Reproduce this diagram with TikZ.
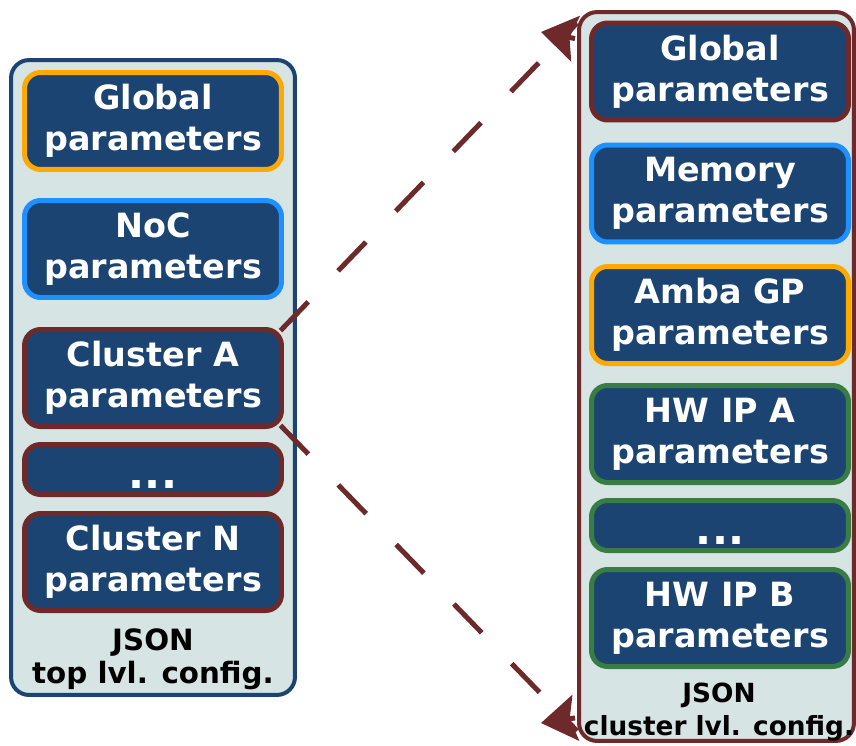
\documentclass[tikz,border=0pt]{standalone}
\usepackage{fontspec}
\setmainfont{DejaVu Sans}
\usetikzlibrary{arrows.meta,calc}
\definecolor{navy}{HTML}{1B4472}
\definecolor{panel}{HTML}{D6E4E4}
\definecolor{amber}{HTML}{FFA800}
\definecolor{sky}{HTML}{1E90FF}
\definecolor{wine}{HTML}{6E2A2A}
\definecolor{leaf}{HTML}{3A7D44}
\tikzset{
  cfgpanel/.style={draw, line width=0.08cm, rounded corners=0.36cm, fill=panel},
  parbox/.style={draw, line width=0.1cm, rounded corners=0.32cm, fill=navy, text=white,
    font=\fontsize{19}{23.5}\selectfont\bfseries, align=center,
    minimum width=5.14cm, minimum height=1.94cm, inner sep=0pt},
  dotbox/.style={parbox, minimum height=1.0cm, font=\fontsize{24}{28}\selectfont\bfseries,
    text height=0.76cm, text depth=0cm},
  cfglabel/.style={font=\fontsize{16.7}{19}\selectfont\bfseries, align=center, inner sep=0pt},
  link/.style={wine, line width=0.1cm, dash pattern=on 0.8cm off 0.86cm},
  linkhead/.style={wine, line width=0.1cm, -{Stealth[length=0.7cm, width=0.92cm, inset=0.12cm]}}
}
\begin{document}
\begin{tikzpicture}[x=0.02cm, y=-0.02cm]
\useasboundingbox (0,0) rectangle (856,745);
% top level config
\node[cfgpanel, draw=navy, minimum width=5.68cm, minimum height=12.7cm] (toppanel) at (153,377.5) {};
\node[parbox, draw=amber] (topglob) at (153,121) {Global\\parameters};
\node[parbox, draw=sky] (noc) at (153,249) {NoC\\parameters};
\node[parbox, draw=wine] (clA) at (153,378) {Cluster A\\parameters};
\node[dotbox, draw=wine] (cldots) at (153,469.5) {...};
\node[parbox, draw=wine] (clN) at (153,562) {Cluster N\\parameters};
\node[cfglabel] (toplabel) at (153,659) {JSON\\top lvl. config.};
% cluster level config
\node[cfgpanel, draw=wine, minimum width=5.5cm, minimum height=14.58cm] (clpanel) at (716.5,376.5) {};
\node[parbox, draw=wine] (clglob) at (720,71.5) {Global\\parameters};
\node[parbox, draw=sky] (mem) at (720,193.5) {Memory\\parameters};
\node[parbox, draw=amber] (amba) at (720,315) {Amba GP\\parameters};
\node[parbox, draw=leaf] (ipA) at (720,434) {HW IP A\\parameters};
\node[dotbox, draw=leaf] (ipdots) at (720,525.5) {...};
\node[parbox, draw=leaf] (ipB) at (720,618) {HW IP B\\parameters};
\node[cfglabel, font=\fontsize{15}{19}\selectfont\bfseries] (cllabel) at (719,712) {JSON\\cluster lvl. config.};
% zoom lines
\coordinate (endA) at ($(clpanel.north west)+(0,13)$);
\coordinate (backA) at ($(clpanel.north west)+(-2,28.5)$);
\coordinate (tipA) at (541,32);
\coordinate (endB) at ($(clpanel.south west)+(0,-12)$);
\coordinate (backB) at ($(clpanel.south west)+(-2,-25)$);
\coordinate (tipB) at (541,723);
\draw[link, shorten <=-0.1cm] (clA.north east) -- (endA);
\draw[linkhead] (backA) -- (tipA);
\draw[link, shorten <=-0.1cm] (clA.south east) -- (endB);
\draw[linkhead] (backB) -- (tipB);
\end{tikzpicture}
\end{document}
